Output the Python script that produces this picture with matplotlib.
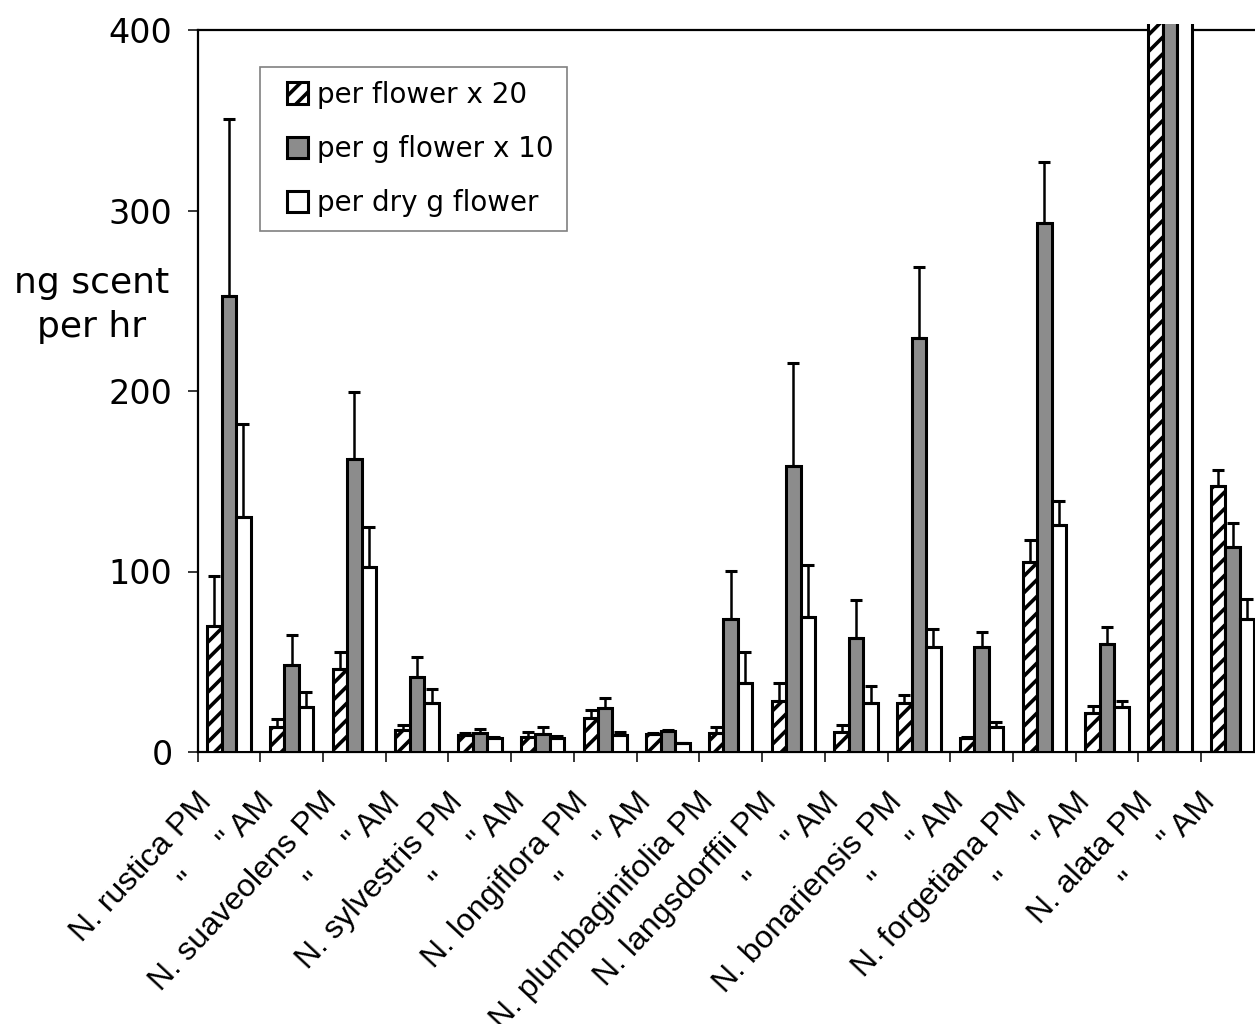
import numpy as np
import matplotlib
matplotlib.use('Agg')
import matplotlib.pyplot as plt
import matplotlib.patches as mpatches
import matplotlib.transforms as mtransforms
from matplotlib.legend_handler import HandlerPatch

labels = ['N. rustica PM', '"     " AM', 'N. suaveolens PM', '"     " AM',
          'N. sylvestris PM', '"     " AM', 'N. longiflora PM', '"     " AM',
          'N. plumbaginifolia PM', 'N. langsdorffii PM', '"     " AM',
          'N. bonariensis PM', '"     " AM', 'N. forgetiana PM', '"     " AM',
          'N. alata PM', '"     " AM']

# N. alata PM runs off the top of the scale in every series
per_flower = [70, 14, 46, 12, 9.5, 8.5, 19, 9.8, 10.3, 28, 11.3, 27.3, 7.6, 105, 21.8, 560, 147.4]
per_flower_se = [27.5, 4.3, 9.2, 3, 1, 2.5, 4.3, 0.7, 3.7, 10, 3.7, 4.3, 0.9, 12.5, 3.7, 0, 8.8]
per_g = [252.6, 48.2, 162.3, 41.4, 10.5, 10, 24.2, 11.6, 73.7, 158.4, 63, 229.2, 58, 292.9, 59.7, 1100, 113.4]
per_g_se = [98, 16.8, 37, 11.4, 2, 3.7, 5.5, 0.6, 26.8, 57.3, 21.2, 39.7, 8.7, 33.8, 9.7, 0, 13.3]
per_dry = [130.2, 25.1, 102.5, 27.3, 7.5, 7.6, 9.4, 4.8, 38, 74.6, 27, 58, 14, 125.8, 24.8, 600, 73.7]
per_dry_se = [51.5, 8.3, 22.2, 7.8, 1, 1.4, 1.5, 0.4, 17.4, 29, 9.6, 10, 2.4, 13.2, 3.6, 0, 11.1]

series = ['per flower x 20', 'per g flower x 10', 'per dry g flower']

plt.rcParams['font.family'] = ['DejaVu Sans']
plt.rcParams['hatch.linewidth'] = 2.6

fig = plt.figure(figsize=(12.55, 10.24), dpi=100)
ax = fig.add_axes([197.5 / 1255, 1 - 752 / 1024, 17 * 62.73 / 1255, 722 / 1024])

n = len(labels)
x = np.arange(n) + 0.5
w = 0.231
clip = mpatches.Rectangle((0, 0), 1, 1.009, transform=ax.transAxes)

styles = [dict(facecolor='white', hatch='//'),
          dict(facecolor='#8c8c8c'),
          dict(facecolor='white')]
vals = [per_flower, per_g, per_dry]
errs = [per_flower_se, per_g_se, per_dry_se]
handles = []
for k in range(3):
    pos = x + (k - 1) * w
    bars = ax.bar(pos, vals[k], width=w, edgecolor='black', linewidth=2.2,
                  zorder=3, label=series[k], **styles[k])
    for b in bars:
        b.set_clip_path(clip)
    ax.errorbar(pos, vals[k], yerr=[np.zeros(n), errs[k]], fmt='none',
                ecolor='black', elinewidth=1.8, capsize=4.5, capthick=2.2, zorder=4)
    handles.append(bars)

ax.set_xlim(0, n)
ax.set_ylim(0, 400)
ax.set_yticks([0, 100, 200, 300, 400])
ax.tick_params(axis='y', labelsize=24, length=7, width=1.1, pad=11, direction='out')
ax.set_xticks(np.arange(n + 1))
ax.set_xticklabels([])
ax.tick_params(axis='x', length=7, width=1.1, direction='out')
for s in ['left', 'top', 'bottom', 'right']:
    ax.spines[s].set_linewidth(1.6)

off = mtransforms.ScaledTranslation(-0.22, -0.45, fig.dpi_scale_trans)
for xi, lab in zip(x, labels):
    ax.text(xi, 0, lab, transform=ax.get_xaxis_transform() + off,
            rotation=47, rotation_mode='anchor', ha='right', va='center',
            fontsize=23, family='Liberation Sans', clip_on=False)

fig.text(92 / 1255, 1 - 305 / 1024, 'ng scent\nper hr', ha='center', va='center',
         fontsize=26, linespacing=1.4)


def square(legend, orig_handle, xdescent, ydescent, width, height, fontsize):
    sz = height
    return mpatches.Rectangle((-xdescent + width - sz, -ydescent), sz, sz)


leg = ax.legend(handles=[h[0] for h in handles], labels=series, loc='upper left',
                bbox_to_anchor=((260 - 197.5) / 1066.4, (752 - 66.7) / 722),
                borderaxespad=0, fontsize=20, frameon=True, fancybox=False,
                framealpha=1, edgecolor='#808080', handlelength=1.22,
                handleheight=0.8, handletextpad=0.32, labelspacing=0.95,
                borderpad=0.5, handler_map={mpatches.Rectangle: HandlerPatch(patch_func=square)})
leg.get_frame().set_linewidth(1.2)
leg.set_zorder(5)

fig.savefig('out.png', dpi=100)
